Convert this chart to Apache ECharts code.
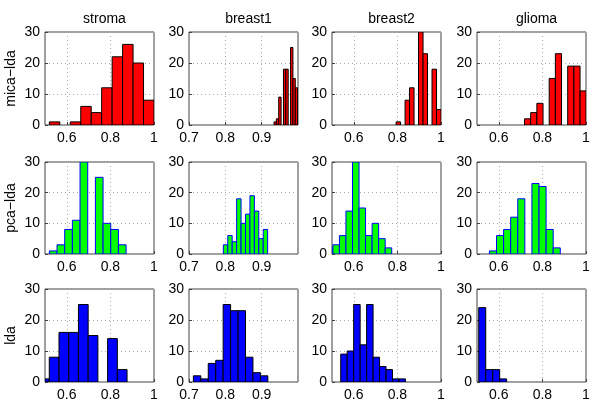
<!DOCTYPE html>
<html>
<head>
<meta charset="utf-8">
<script src="https://cdn.jsdelivr.net/npm/echarts@6/dist/echarts.min.js"></script>
<style>html,body{margin:0;padding:0;background:#fff}#c{width:600px;height:407px}</style>
</head>
<body>
<div id="c"></div>
<script>
// ---- data ----
const colNames = ['stroma', 'breast1', 'breast2', 'glioma'];
const rowNames = ['mica\u2212lda', 'pca\u2212lda', 'lda'];

const xMin = [0.5, 0.7, 0.5, 0.5];
const xMax = [1, 1, 1, 1];
const xTicks = [[0.6, 0.8, 1], [0.7, 0.8, 0.9], [0.6, 0.8, 1], [0.6, 0.8, 1]];
const yTicks = [0, 10, 20, 30];

// histogram bins: first bin edge, bin width, counts
const micaLdaBinStart = [0.52, 0.934, 0.794, 0.718];
const micaLdaBinWidth = [0.048, 0.0065, 0.0206, 0.0283];
const micaLdaStroma  = [1, 0, 1, 6, 4, 12, 22, 26, 20, 8];
const micaLdaBreast1 = [1, 2, 9, 0, 18, 18, 0, 25, 15, 12];
const micaLdaBreast2 = [1, 0, 8, 12, 0, 30, 23, 0, 18, 5];
const micaLdaGlioma  = [2, 4, 7, 0, 15, 23, 0, 19, 19, 11];

const pcaLdaBinStart = [0.52, 0.7945, 0.474, 0.557];
const pcaLdaBinWidth = [0.0352, 0.0122, 0.030, 0.0325];
const pcaLdaStroma  = [1, 3, 8, 11, 31, 0, 25, 10, 8, 3];
const pcaLdaBreast1 = [3, 6, 4, 18, 10, 13, 19, 14, 5, 8];
const pcaLdaBreast2 = [2, 3, 6, 14, 30, 15, 6, 10, 5, 2];
const pcaLdaGlioma  = [1, 6, 8, 12, 18, 0, 23, 22, 8, 2];

const ldaBinStart = [0.475, 0.712, 0.54, 0.508];
const ldaBinWidth = [0.0446, 0.0205, 0.0297, 0.032];
const ldaStroma  = [1, 8, 16, 16, 25, 15, 0, 14, 4];
const ldaBreast1 = [2, 1, 6, 7, 25, 23, 23, 8, 3, 2];
const ldaBreast2 = [9, 10, 25, 12, 25, 8, 5, 4, 1, 1];
const ldaGlioma  = [24, 4, 4, 1];

const rowsCounts = [
  [micaLdaStroma, micaLdaBreast1, micaLdaBreast2, micaLdaGlioma],
  [pcaLdaStroma, pcaLdaBreast1, pcaLdaBreast2, pcaLdaGlioma],
  [ldaStroma, ldaBreast1, ldaBreast2, ldaGlioma]
];
const rowsStart = [micaLdaBinStart, pcaLdaBinStart, ldaBinStart];
const rowsWidth = [micaLdaBinWidth, pcaLdaBinWidth, ldaBinWidth];

// ---- styles / layout ----
const rowFill = ['#ff0000', '#00ff00', '#0000ff'];
const rowEdge = ['#000000', '#0000ff', '#000000'];
const gridLeft = [45, 189, 332, 477];
const gridTop = [32, 162, 289];
const gridW = 109;
const gridH = [93, 92, 93];
const FONT = 'Liberation Sans, Arial, sans-serif';

const chart = echarts.init(document.getElementById('c'), null, {renderer: 'canvas'});

const grids = [], xAxes = [], yAxes = [], series = [], titles = [];
let k = 0;
for (let r = 0; r < 3; r++) {
  for (let c = 0; c < 4; c++) {
    grids.push({left: gridLeft[c], top: gridTop[r], width: gridW, height: gridH[r],
      show: true, borderColor: '#404040', borderWidth: 1, backgroundColor: '#fff', containLabel: false});
    const xt = xTicks[c];
    xAxes.push({type: 'value', gridIndex: k, min: xMin[c], max: xMax[c],
      axisLine: {show: false},
      axisTick: {show: true, inside: true, length: 3, customValues: xt, lineStyle: {color: '#404040'}},
      axisLabel: {customValues: xt, color: '#000', fontSize: 14, fontFamily: FONT, margin: 6,
        formatter: v => String(Math.round(v * 10) / 10)},
      splitLine: {show: true, lineStyle: {color: '#aaaaaa', type: [1, 3], width: 1}}
    });
    yAxes.push({type: 'value', gridIndex: k, min: 0, max: 30, interval: 10,
      axisLine: {show: false},
      axisTick: {show: true, inside: true, length: 3, lineStyle: {color: '#404040'}},
      axisLabel: {color: '#000', fontSize: 14, fontFamily: FONT, margin: 5},
      splitLine: {show: true, lineStyle: {color: '#aaaaaa', type: [1, 3], width: 1}},
      name: c === 0 ? rowNames[r] : '', nameLocation: 'middle', nameRotate: 90, nameGap: 27,
      nameTextStyle: {color: '#000', fontSize: 14, fontFamily: FONT}
    });
    const counts = rowsCounts[r][c];
    const start = rowsStart[r][c], w = rowsWidth[r][c];
    const data = counts.map((n, i) => [start + i * w, start + (i + 1) * w, n]);
    const fill = rowFill[r], edge = rowEdge[r];
    series.push({type: 'custom', xAxisIndex: k, yAxisIndex: k, clip: true,
      encode: {x: [0, 1], y: 2},
      data: data,
      renderItem: function (params, api) {
        const n = api.value(2);
        if (!n) return null;
        const p0 = api.coord([api.value(0), 0]);
        const p1 = api.coord([api.value(1), n]);
        const cs = params.coordSys;
        const shape = echarts.graphic.clipRectByRect(
          {x: p0[0], y: p1[1], width: p1[0] - p0[0], height: p0[1] - p1[1]},
          {x: cs.x, y: cs.y, width: cs.width, height: cs.height});
        if (!shape) return null;
        return {type: 'rect', shape: shape, style: {fill: fill, stroke: edge, lineWidth: 1}};
      }
    });
    k++;
  }
}
for (let c = 0; c < 4; c++) {
  titles.push({text: colNames[c], left: gridLeft[c] + gridW / 2, top: 7, textAlign: 'center',
    textStyle: {fontSize: 14, fontWeight: 'normal', color: '#000', fontFamily: FONT}});
}

chart.setOption({
  animation: false,
  backgroundColor: '#fff',
  title: titles,
  grid: grids,
  xAxis: xAxes,
  yAxis: yAxes,
  series: series
});
</script>
</body>
</html>
